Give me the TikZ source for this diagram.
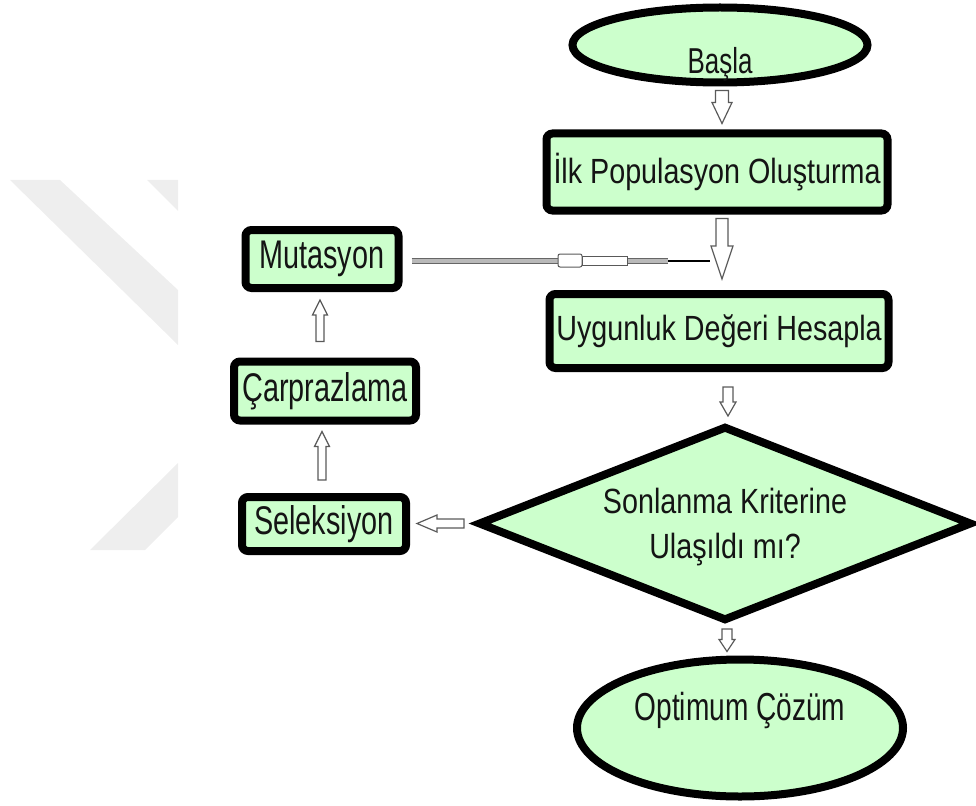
\documentclass[tikz,border=0pt]{standalone}
\usepackage{fontspec}
\setmainfont{Liberation Sans}[FakeStretch=0.82]
\newfontfamily\narrowfont{Liberation Sans}[FakeStretch=0.72]
\usetikzlibrary{shapes.geometric,calc}
\definecolor{boxgreen}{RGB}{204,255,204}
\definecolor{wmgray}{RGB}{238,238,238}
\definecolor{arrline}{RGB}{90,90,90}
\definecolor{txt}{RGB}{20,20,20}
% vertical hollow block arrow: from, to, shaft half width, head half width, head length
\newcommand\vblockarrow[5]{%
  \draw[hollowarrow] let \p1=(#1), \p2=(#2), \n1={ifthenelse(\y2>\y1,\y2-#5,\y2+#5)} in
  (\x1-#3,\y1) -- (\x1-#3,\n1) -- (\x1-#4,\n1) -- (\x1,\y2)
  -- (\x1+#4,\n1) -- (\x1+#3,\n1) -- (\x1+#3,\y1) -- cycle;}
% horizontal hollow block arrow
\newcommand\hblockarrow[5]{%
  \draw[hollowarrow] let \p1=(#1), \p2=(#2), \n1={ifthenelse(\x2>\x1,\x2-#5,\x2+#5)} in
  (\x1,\y1-#3) -- (\n1,\y1-#3) -- (\n1,\y1-#4) -- (\x2,\y1)
  -- (\n1,\y1+#4) -- (\n1,\y1+#3) -- (\x1,\y1+#3) -- cycle;}
\begin{document}
\begin{tikzpicture}[x=1pt,y=-1pt,
  font=\fontsize{35}{45}\selectfont, text=txt,
  box/.style={draw=black, line width=8pt, fill=boxgreen, rounded corners=6pt, inner sep=0pt},
  sidebox/.style={box, font=\narrowfont\fontsize{40}{48}\selectfont},
  term/.style={ellipse, draw=black, line width=8pt, fill=boxgreen, inner sep=0pt},
  hollowarrow/.style={draw=arrline, fill=white, line width=1.2pt, line join=miter}]
\useasboundingbox (0,0) rectangle (976,805);
% watermark
\fill[wmgray] (10,180) -- (60,180) -- (178,290) -- (178,345) -- cycle;
\fill[wmgray] (147,180) -- (178,180) -- (178,211) -- cycle;
\fill[wmgray] (90,550) -- (145,550) -- (178,517) -- (178,463) -- cycle;
% nodes
\node[term, minimum width=295pt, minimum height=75pt,
      label={[yshift=-19pt, font=\narrowfont\fontsize{36}{44}\selectfont]center:Başla}] (start) at (720,45) {};
\node[box, minimum width=341pt, minimum height=77pt] (init) at (717,172) {İlk Populasyon Oluşturma};
\node[box, minimum width=339pt, minimum height=74pt] (fit) at (719,331) {Uygunluk Değeri Hesapla};
\node[diamond, draw=black, line width=8pt, fill=boxgreen, inner sep=0pt,
      minimum width=494pt, minimum height=195pt,
      label={[align=center, yshift=-4pt]center:Sonlanma Kriterine\\Ulaşıldı mı?}] (dec) at (725,523.5) {};
\node[term, minimum width=326pt, minimum height=137pt,
      label={[yshift=18pt, font=\narrowfont\fontsize{39}{46}\selectfont]center:Optimum Çözüm}] (opt) at (740,728) {};
\node[sidebox, minimum width=153pt, minimum height=58pt] (mut) at (322,259) {Mutasyon};
\node[sidebox, minimum width=182pt, minimum height=59pt] (cross) at (325,391) {Çarprazlama};
\node[sidebox, minimum width=164pt, minimum height=54pt] (sel) at (324,524) {Seleksiyon};
% main arrows
\vblockarrow{[xshift=2pt,yshift=-4pt]start.south}{[yshift=6pt]init.north}{6.5pt}{10pt}{21pt}
\vblockarrow{[xshift=5pt,yshift=-4pt]init.south}{[yshift=11pt]fit.north}{6pt}{11pt}{33pt}
\vblockarrow{[xshift=9pt,yshift=-15pt]fit.south}{[yshift=6pt]dec.north}{5pt}{8pt}{14pt}
\vblockarrow{[xshift=2pt,yshift=-4pt]dec.south}{[yshift=4pt]opt.north}{5pt}{8pt}{12pt}
% loop arrows
\hblockarrow{[xshift=-10pt]dec.west}{[xshift=7pt]sel.east}{4.5pt}{8.5pt}{20pt}
\vblockarrow{[xshift=-2pt,yshift=13pt]sel.north}{[yshift=-7pt]cross.south}{4pt}{7.5pt}{15pt}
\vblockarrow{[xshift=-5pt,yshift=16pt]cross.north}{[yshift=-8pt]mut.south}{4pt}{7.5pt}{15pt}
% mutation back connector
\coordinate (m0) at ([xshift=9pt,yshift=-2pt]mut.east);
\coordinate (c1) at (668,261);
\coordinate (c2) at (710,261);
\draw[line width=6.5pt, draw=gray!80!black] (m0) -- (c1);
\draw[line width=4pt, draw=gray!55] (m0) -- (c1);
\draw[fill=white, draw=gray!70!black, line width=1pt, rounded corners=2pt] (558,254) rectangle (582,267);
\draw[fill=white, draw=gray!70!black, line width=1pt] (582,256.5) rectangle (627,265.5);
\draw[line width=1.5pt, black] (c1) -- (c2);
\end{tikzpicture}
\end{document}
